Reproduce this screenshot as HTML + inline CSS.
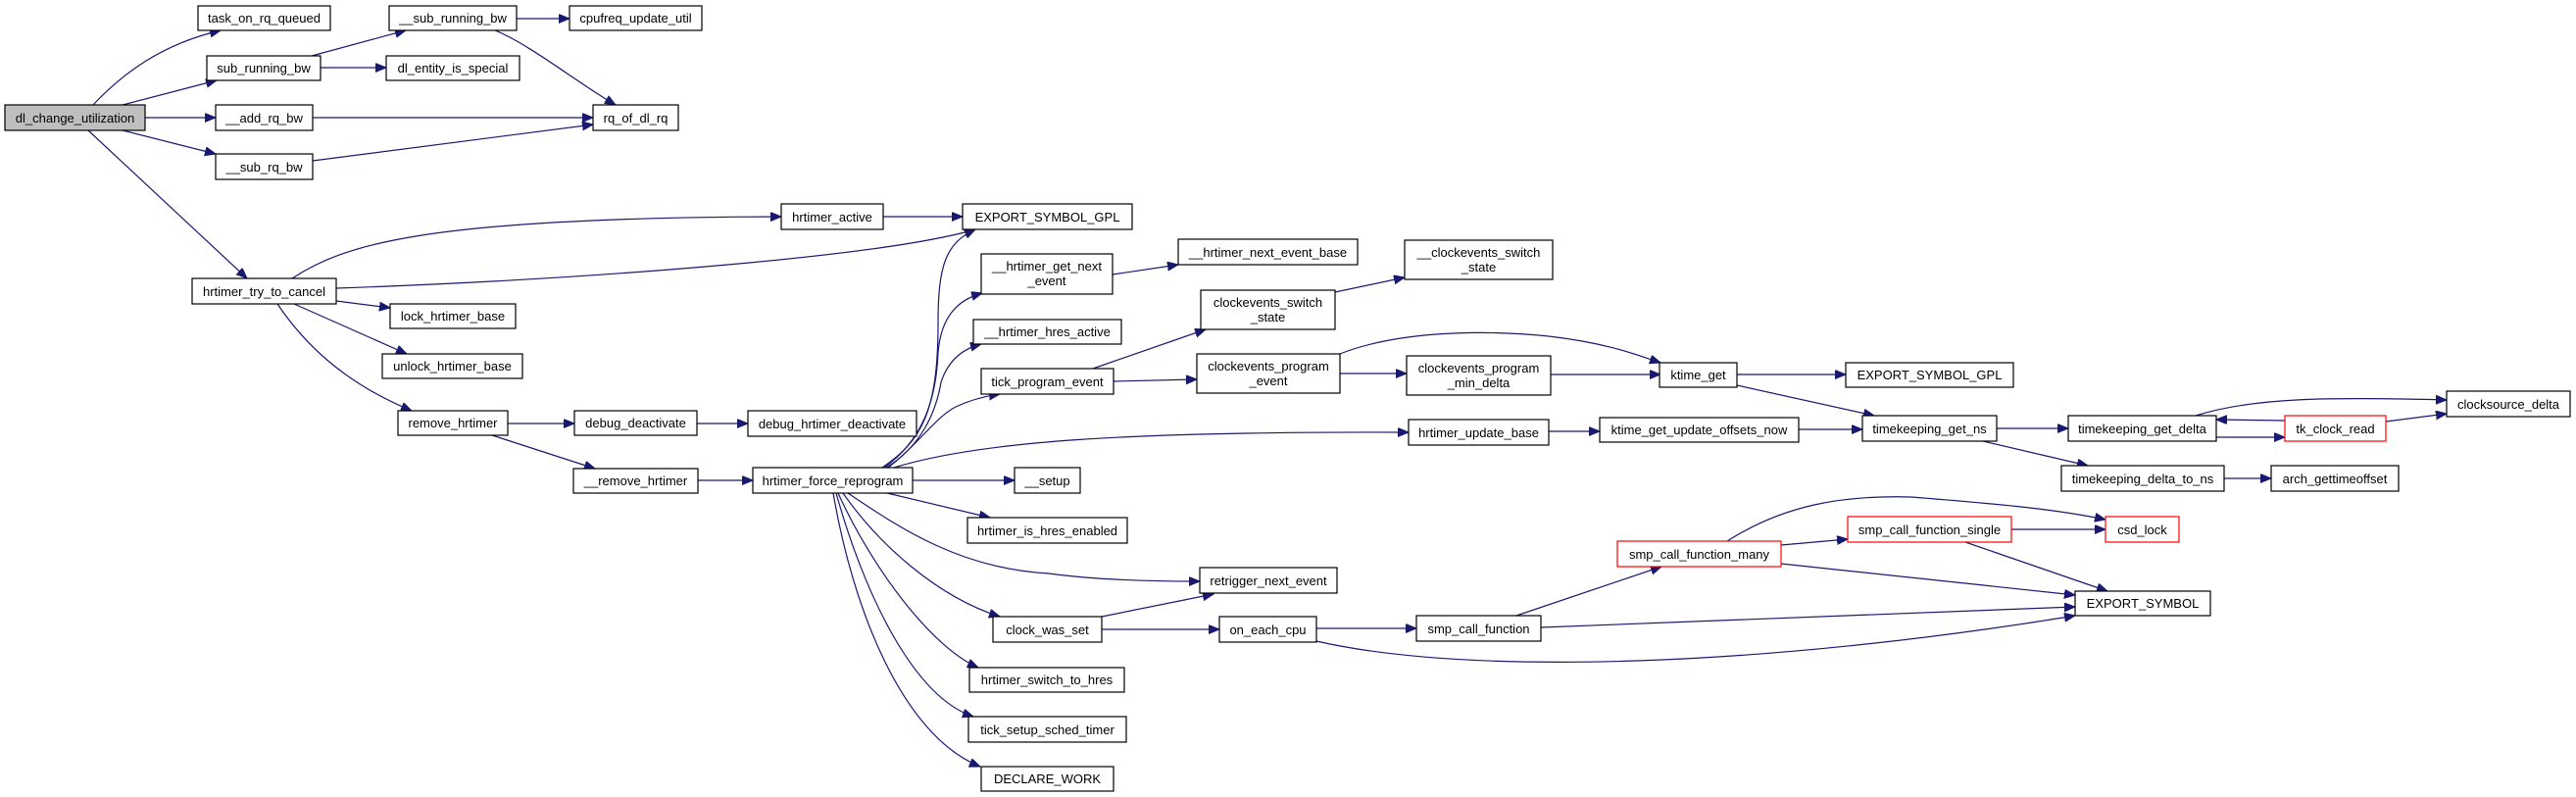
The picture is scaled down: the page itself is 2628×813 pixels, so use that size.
<!DOCTYPE html>
<html><head><meta charset="utf-8"><style>
html,body{margin:0;padding:0;background:#fff;}
svg{display:block;}
text{font-family:"Liberation Sans",Arial,sans-serif;font-size:13px;fill:#000;}
.b{fill:#fff;stroke:#000;stroke-width:1.2;}
.r{fill:#fff;stroke:#ff0000;stroke-width:1.2;}
.g{fill:#bfbfbf;stroke:#000;stroke-width:1.2;}
.e{fill:none;stroke:#191970;stroke-width:1.2;marker-end:url(#a);}
</style></head><body>
<svg width="2628" height="813" viewBox="0 0 2628 813" xmlns="http://www.w3.org/2000/svg">
<defs><marker id="a" markerUnits="userSpaceOnUse" markerWidth="12" markerHeight="10" refX="11" refY="4.5" orient="auto"><path d="M0,0 L11,4.5 L0,9 z" fill="#191970" stroke="#191970"/></marker></defs>

<!-- edges -->
<path class="e" d="M95,107 C125,75 165,45 225,31"/>
<path class="e" d="M125,107 L221,82"/>
<path class="e" d="M148,120 L220,120"/>
<path class="e" d="M125,133 L220,157"/>
<path class="e" d="M90,133 L252,284"/>
<path class="e" d="M318,57 L414,31"/>
<path class="e" d="M327,69 L394,69"/>
<path class="e" d="M527,19 L581,19"/>
<path class="e" d="M505,31 C540,45 590,85 628,107"/>
<path class="e" d="M319,120 L605,120"/>
<path class="e" d="M319,164 L605,127"/>
<path class="e" d="M298,284 C350,250 430,222 797,221"/>
<path class="e" d="M343,294 C600,285 900,262 995,234"/>
<path class="e" d="M343,307 L398,314"/>
<path class="e" d="M300,310 L415,361"/>
<path class="e" d="M283,310 C310,350 350,390 420,419"/>
<path class="e" d="M518,432 L586,432"/>
<path class="e" d="M502,444 L607,478"/>
<path class="e" d="M711,432 L763,432"/>
<path class="e" d="M712,490 L768,490"/>
<path class="e" d="M901,221 L982,221"/>
<path class="e" d="M900,477 C940,450 957,420 957,330 C957,270 965,248 995,234"/>
<path class="e" d="M902,477 C940,450 955,410 957,360 C960,320 980,305 1002,299"/>
<path class="e" d="M904,477 C940,455 955,420 960,390 C968,365 985,355 1001,351"/>
<path class="e" d="M906,477 C935,455 955,425 975,415 C990,408 1005,404 1020,402"/>
<path class="e" d="M912,477 C1000,450 1150,440 1437,441"/>
<path class="e" d="M931,490 L1035,490"/>
<path class="e" d="M905,503 L1010,528"/>
<path class="e" d="M865,503 C920,540 980,580 1070,585 C1120,592 1180,593 1224,593"/>
<path class="e" d="M860,503 C900,560 960,610 1020,629"/>
<path class="e" d="M855,503 C890,580 950,660 998,681"/>
<path class="e" d="M853,503 C880,600 930,710 993,731"/>
<path class="e" d="M850,503 C870,620 920,750 1000,782"/>
<path class="e" d="M1135,280 L1202,270"/>
<path class="e" d="M1115,376 L1230,336"/>
<path class="e" d="M1136,389 L1221,387"/>
<path class="e" d="M1362,298 L1433,283"/>
<path class="e" d="M1367,381 L1435,381"/>
<path class="e" d="M1367,361 C1420,340 1500,335 1580,343 C1640,350 1670,362 1694,370"/>
<path class="e" d="M1582,382 L1694,382"/>
<path class="e" d="M1580,440 L1632,440"/>
<path class="e" d="M1772,382 L1883,382"/>
<path class="e" d="M1772,393 L1912,424"/>
<path class="e" d="M1835,438 L1900,438"/>
<path class="e" d="M2037,437 L2110,437"/>
<path class="e" d="M2023,450 L2130,475"/>
<path class="e" d="M2261,446 L2331,446"/>
<path class="e" d="M2331,429 L2261,428"/>
<path class="e" d="M2240,424 C2300,405 2380,405 2496,408"/>
<path class="e" d="M2434,430 L2496,422"/>
<path class="e" d="M2269,488 L2317,488"/>
<path class="e" d="M1124,629 L1238,606"/>
<path class="e" d="M1124,642 L1244,642"/>
<path class="e" d="M1343,641 L1445,641"/>
<path class="e" d="M1343,654 C1500,690 1800,680 2117,628"/>
<path class="e" d="M1547,628 L1695,578"/>
<path class="e" d="M1572,640 L2117,619"/>
<path class="e" d="M1817,556 L1885,550"/>
<path class="e" d="M1762,552 C1820,515 1880,505 1950,507 C2050,515 2100,520 2148,530"/>
<path class="e" d="M2052,540 L2148,540"/>
<path class="e" d="M1817,575 L2117,607"/>
<path class="e" d="M2005,553 L2150,603"/>

<!-- nodes -->
<rect class="g" x="5" y="107" width="143" height="26"/><text x="76.5" y="125" text-anchor="middle">dl_change_utilization</text>
<rect class="b" x="202" y="6" width="135" height="25"/><text x="269.5" y="23" text-anchor="middle">task_on_rq_queued</text>
<rect class="b" x="211" y="57" width="116" height="25"/><text x="269" y="74" text-anchor="middle">sub_running_bw</text>
<rect class="b" x="397" y="6" width="130" height="25"/><text x="462" y="23" text-anchor="middle">__sub_running_bw</text>
<rect class="b" x="581" y="6" width="135" height="25"/><text x="648.5" y="23" text-anchor="middle">cpufreq_update_util</text>
<rect class="b" x="394" y="57" width="136" height="25"/><text x="462" y="74" text-anchor="middle">dl_entity_is_special</text>
<rect class="b" x="220" y="107" width="99" height="26"/><text x="269.5" y="125" text-anchor="middle">__add_rq_bw</text>
<rect class="b" x="605" y="107" width="87" height="26"/><text x="648.5" y="125" text-anchor="middle">rq_of_dl_rq</text>
<rect class="b" x="220" y="157" width="99" height="26"/><text x="269.5" y="175" text-anchor="middle">__sub_rq_bw</text>
<rect class="b" x="196" y="284" width="147" height="26"/><text x="269.5" y="302" text-anchor="middle">hrtimer_try_to_cancel</text>
<rect class="b" x="398" y="310" width="128" height="25"/><text x="462" y="327" text-anchor="middle">lock_hrtimer_base</text>
<rect class="b" x="390" y="361" width="143" height="25"/><text x="461.5" y="378" text-anchor="middle">unlock_hrtimer_base</text>
<rect class="b" x="406" y="419" width="112" height="25"/><text x="462" y="436" text-anchor="middle">remove_hrtimer</text>
<rect class="b" x="586" y="419" width="125" height="25"/><text x="648.5" y="436" text-anchor="middle">debug_deactivate</text>
<rect class="b" x="585" y="478" width="127" height="25"/><text x="648.5" y="495" text-anchor="middle">__remove_hrtimer</text>
<rect class="b" x="797" y="208" width="104" height="26"/><text x="849" y="226" text-anchor="middle">hrtimer_active</text>
<rect class="b" x="982" y="208" width="173" height="26"/><text x="1068.5" y="226" text-anchor="middle">EXPORT_SYMBOL_GPL</text>
<rect class="b" x="1001" y="259" width="134" height="41"/><text x="1068" y="276" text-anchor="middle">__hrtimer_get_next</text><text x="1068" y="291" text-anchor="middle">_event</text>
<rect class="b" x="1202" y="244" width="183" height="26"/><text x="1293.5" y="262" text-anchor="middle">__hrtimer_next_event_base</text>
<rect class="b" x="1433" y="245" width="151" height="40"/><text x="1508.5" y="262" text-anchor="middle">__clockevents_switch</text><text x="1508.5" y="277" text-anchor="middle">_state</text>
<rect class="b" x="1225" y="296" width="137" height="40"/><text x="1293.5" y="313" text-anchor="middle">clockevents_switch</text><text x="1293.5" y="328" text-anchor="middle">_state</text>
<rect class="b" x="993" y="326" width="151" height="25"/><text x="1068.5" y="343" text-anchor="middle">__hrtimer_hres_active</text>
<rect class="b" x="1001" y="376" width="135" height="26"/><text x="1068.5" y="394" text-anchor="middle">tick_program_event</text>
<rect class="b" x="1221" y="361" width="146" height="40"/><text x="1294" y="378" text-anchor="middle">clockevents_program</text><text x="1294" y="393" text-anchor="middle">_event</text>
<rect class="b" x="1435" y="363" width="147" height="40"/><text x="1508.5" y="380" text-anchor="middle">clockevents_program</text><text x="1508.5" y="395" text-anchor="middle">_min_delta</text>
<rect class="b" x="763" y="419" width="172" height="26"/><text x="849" y="437" text-anchor="middle">debug_hrtimer_deactivate</text>
<rect class="b" x="1437" y="428" width="143" height="26"/><text x="1508.5" y="446" text-anchor="middle">hrtimer_update_base</text>
<rect class="b" x="768" y="477" width="163" height="26"/><text x="849.5" y="495" text-anchor="middle">hrtimer_force_reprogram</text>
<rect class="b" x="1035" y="477" width="67" height="26"/><text x="1068.5" y="495" text-anchor="middle">__setup</text>
<rect class="b" x="987" y="528" width="163" height="26"/><text x="1068.5" y="546" text-anchor="middle">hrtimer_is_hres_enabled</text>
<rect class="b" x="1224" y="579" width="140" height="26"/><text x="1294" y="597" text-anchor="middle">retrigger_next_event</text>
<rect class="b" x="1013" y="629" width="111" height="26"/><text x="1068.5" y="647" text-anchor="middle">clock_was_set</text>
<rect class="b" x="1244" y="629" width="99" height="26"/><text x="1293.5" y="647" text-anchor="middle">on_each_cpu</text>
<rect class="b" x="1445" y="628" width="127" height="26"/><text x="1508.5" y="646" text-anchor="middle">smp_call_function</text>
<rect class="b" x="989" y="681" width="158" height="25"/><text x="1068" y="698" text-anchor="middle">hrtimer_switch_to_hres</text>
<rect class="b" x="988" y="731" width="161" height="26"/><text x="1068.5" y="749" text-anchor="middle">tick_setup_sched_timer</text>
<rect class="b" x="1001" y="782" width="135" height="25"/><text x="1068.5" y="799" text-anchor="middle">DECLARE_WORK</text>
<rect class="b" x="1693" y="370" width="79" height="25"/><text x="1732.5" y="387" text-anchor="middle">ktime_get</text>
<rect class="b" x="1883" y="370" width="171" height="25"/><text x="1968.5" y="387" text-anchor="middle">EXPORT_SYMBOL_GPL</text>
<rect class="b" x="1632" y="426" width="203" height="25"/><text x="1733.5" y="443" text-anchor="middle">ktime_get_update_offsets_now</text>
<rect class="b" x="1900" y="424" width="137" height="26"/><text x="1968.5" y="442" text-anchor="middle">timekeeping_get_ns</text>
<rect class="b" x="2110" y="424" width="151" height="26"/><text x="2185.5" y="442" text-anchor="middle">timekeeping_get_delta</text>
<rect class="r" x="2331" y="424" width="103" height="26"/><text x="2382.5" y="442" text-anchor="middle">tk_clock_read</text>
<rect class="b" x="2496" y="399" width="126" height="26"/><text x="2559" y="417" text-anchor="middle">clocksource_delta</text>
<rect class="b" x="2103" y="475" width="166" height="26"/><text x="2186" y="493" text-anchor="middle">timekeeping_delta_to_ns</text>
<rect class="b" x="2317" y="475" width="130" height="26"/><text x="2382" y="493" text-anchor="middle">arch_gettimeoffset</text>
<rect class="r" x="2148" y="527" width="75" height="26"/><text x="2185.5" y="545" text-anchor="middle">csd_lock</text>
<rect class="r" x="1885" y="527" width="167" height="26"/><text x="1968.5" y="545" text-anchor="middle">smp_call_function_single</text>
<rect class="r" x="1650" y="552" width="167" height="26"/><text x="1733.5" y="570" text-anchor="middle">smp_call_function_many</text>
<rect class="b" x="2117" y="603" width="138" height="25"/><text x="2186" y="620" text-anchor="middle">EXPORT_SYMBOL</text>
</svg>
</body></html>
